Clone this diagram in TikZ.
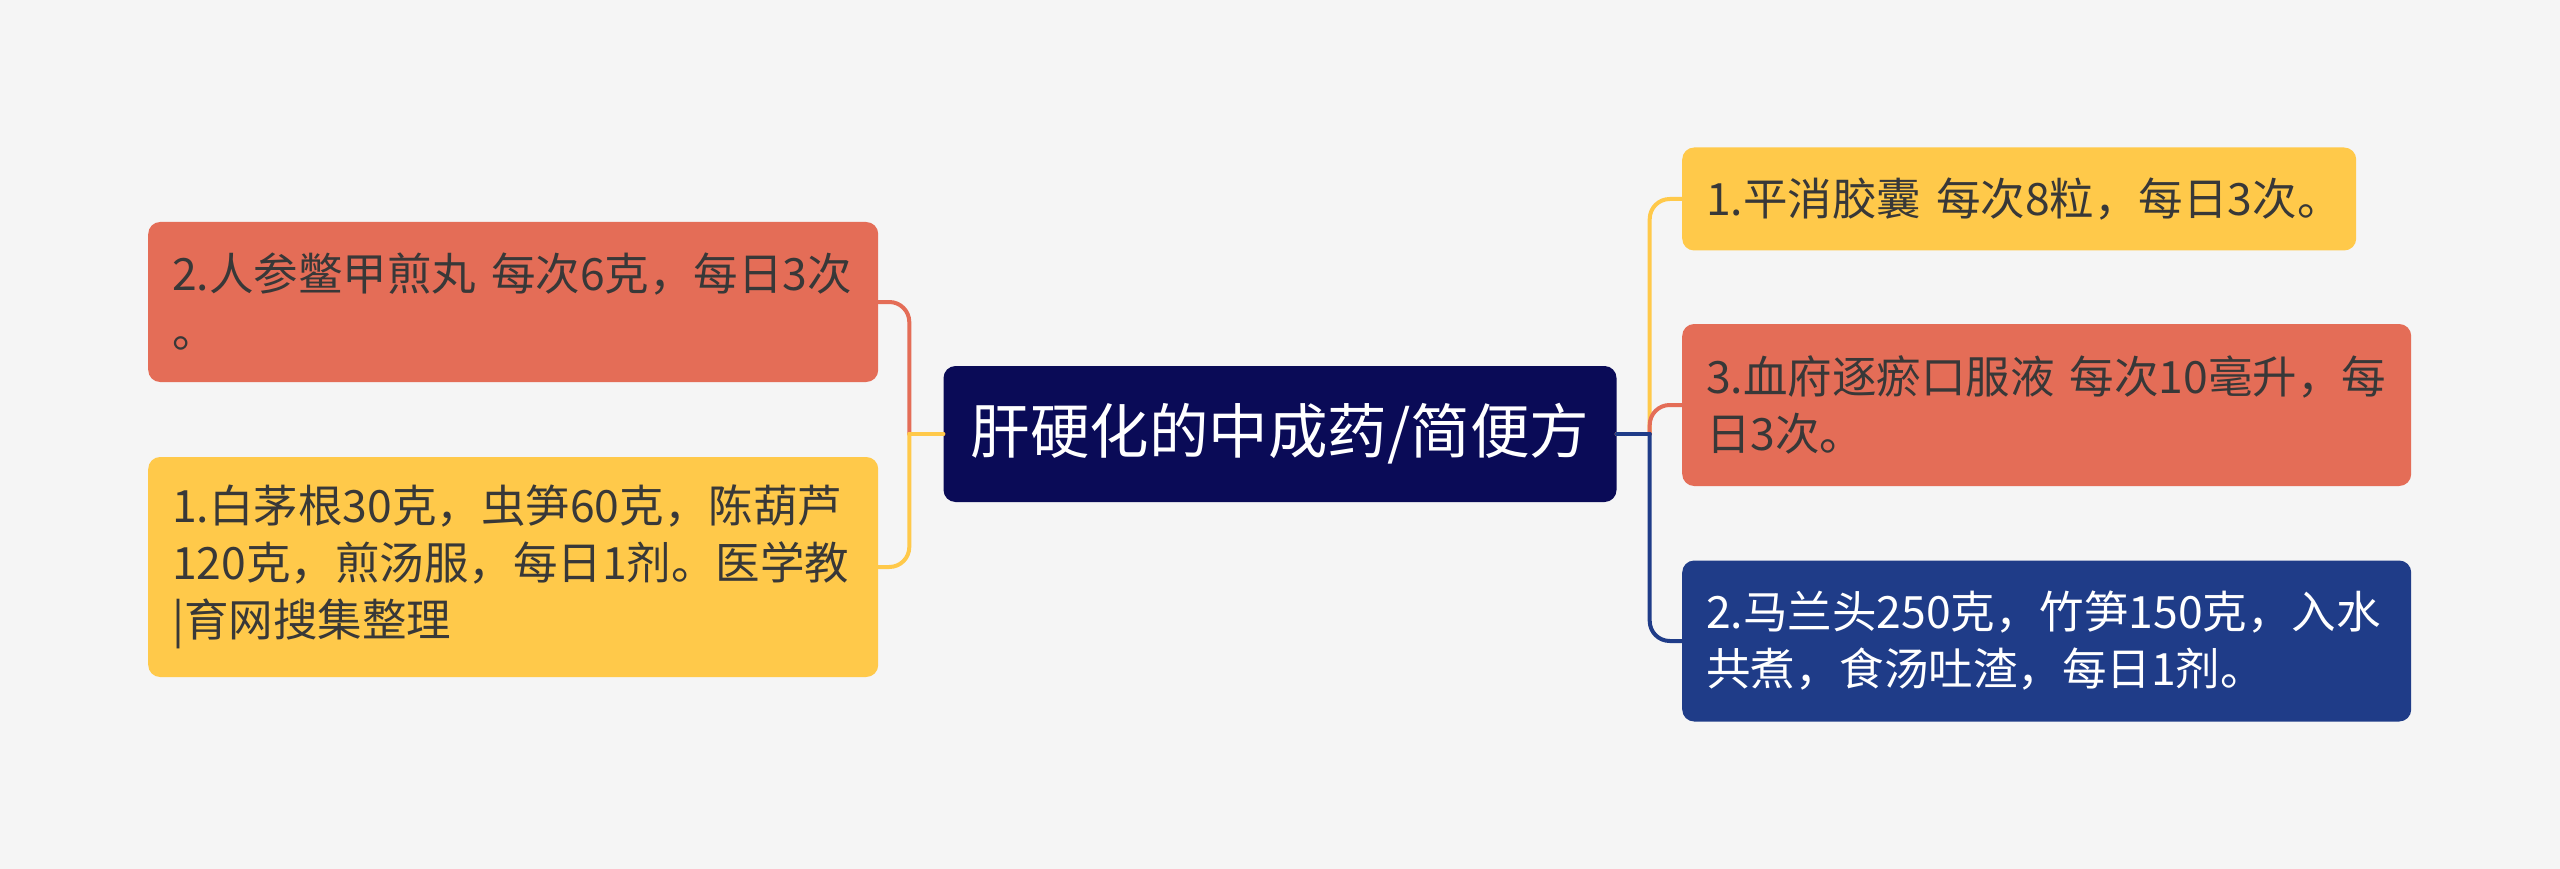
\documentclass[tikz,border=0pt]{standalone}
\usepackage{fontspec}
\newfontfamily\cjk{Noto Sans CJK SC}
\usetikzlibrary{calc}
\definecolor{bg}{HTML}{F5F5F5}
\definecolor{cred}{HTML}{E46D57}
\definecolor{cyellow}{HTML}{FFC94A}
\definecolor{cnavy}{HTML}{0A0B57}
\definecolor{cblue}{HTML}{1F3C88}
\definecolor{ctext}{HTML}{383838}
\begin{document}
\begin{tikzpicture}[x=1pt,y=-1pt,
  box/.style={rounded corners=12pt, anchor=west, inner xsep=24pt, inner ysep=0pt,
    align=left, font=\cjk\fontsize{44.5}{57}\selectfont},
  conn/.style={line width=4pt, line cap=round, line join=round}]
\fill[bg] (0,0) rectangle (2560,869);
\useasboundingbox (0,0) rectangle (2560,869);

\node[rounded corners=12pt, fill=cnavy, text=white, minimum width=673pt, minimum height=136pt,
  inner sep=0pt, font=\cjk\fontsize{59.5}{64}\selectfont] (c) at (1280,434) {肝硬化的中成药/简便方};

\node[box, fill=cred, text=ctext, text width=682pt, minimum height=160pt] (l1) at (148,302)
  {2.人参鳖甲煎丸~每次6克，每日3次\\。};
\node[box, fill=cyellow, text=ctext, text width=682pt, minimum height=220pt] (l2) at (148,567)
  {1.白茅根30克，虫笋60克，陈葫芦\\120克，煎汤服，每日1剂。医学教\\|育网搜集整理};

\node[box, fill=cyellow, text=ctext, text width=626pt, minimum height=103pt] (r1) at (1682,199)
  {1.平消胶囊~每次8粒，每日3次。};
\node[box, fill=cred, text=ctext, text width=681pt, minimum height=162pt] (r2) at (1682,405)
  {3.血府逐瘀口服液~每次10毫升，每\\日3次。};
\node[box, fill=cblue, text=white, text width=681pt, minimum height=161pt] (r3) at (1682,641)
  {2.马兰头250克，竹笋150克，入水\\共煮，食汤吐渣，每日1剂。};

\coordinate (JL) at ($(c.west)+(-34,0)$);
\coordinate (JR) at ($(c.east)+(33,0)$);

\draw[conn, cred] (c.west) -- (JL);
\draw[conn, cred, rounded corners=20pt] (JL) |- (l1.east);
\draw[conn, cyellow] (c.west) -- (JL);
\draw[conn, cyellow, rounded corners=20pt] (JL) |- (l2.east);

\draw[conn, cyellow] (c.east) -- (JR);
\draw[conn, cyellow, rounded corners=20pt] (JR) |- (r1.west);
\draw[conn, cred] (c.east) -- (JR);
\draw[conn, cred, rounded corners=20pt] (JR) |- (r2.west);
\draw[conn, cblue] (c.east) -- (JR);
\draw[conn, cblue, rounded corners=20pt] (JR) |- (r3.west);
\end{tikzpicture}
\end{document}
